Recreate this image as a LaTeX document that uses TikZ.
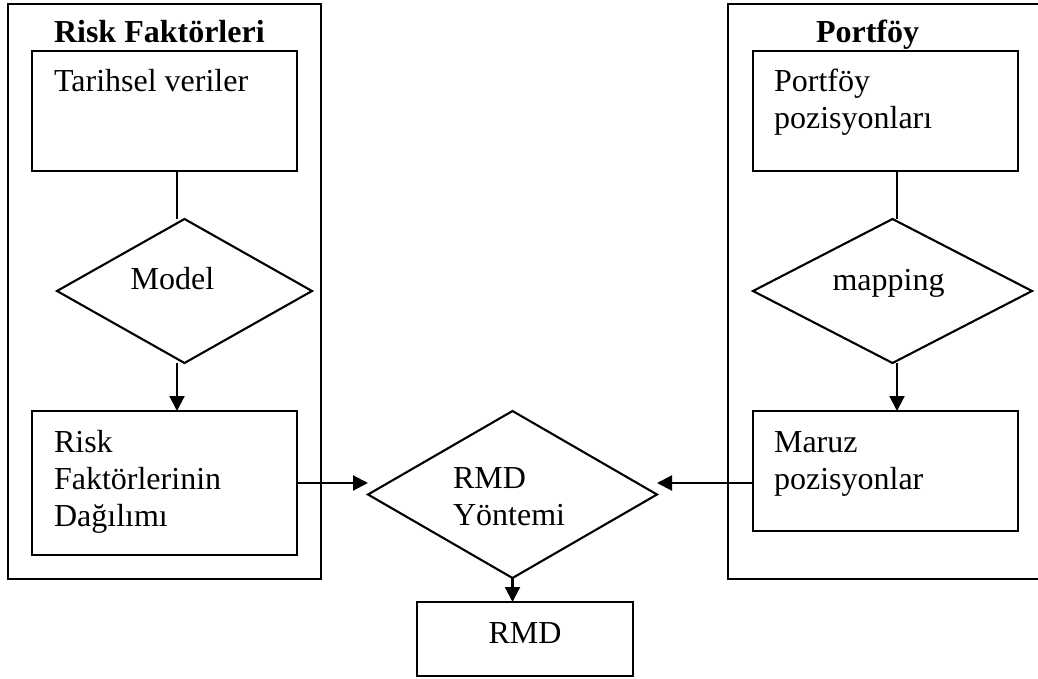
\documentclass[tikz,border=0pt]{standalone}
\usepackage{fontspec}
\setmainfont{Liberation Serif}
\usetikzlibrary{arrows.meta, shapes.geometric}

\begin{document}
\begin{tikzpicture}[x=1pt, y=-1pt, >={Triangle[length=15pt,width=15pt]}, line width=2.1pt,
    box/.style={draw, rectangle, inner sep=0pt, outer sep=0pt},
    dia/.style={draw, diamond, inner sep=0pt, outer sep=0pt},
    txt/.style={inner sep=0pt, font=\fontsize{32}{37}\selectfont, align=left},
    ttl/.style={inner sep=0pt, font=\fontsize{32}{37}\selectfont\bfseries}]
        \useasboundingbox (0,0) rectangle (1038,679);

        % Outer frames
        \node[box, minimum width=313pt, minimum height=575pt] (riskframe) at (164.5,291.5) {};
        \node[box, minimum width=320pt, minimum height=575pt] (portframe) at (888,291.5) {};
        \node[ttl, anchor=base west] (risktitle) at (53,43) {Risk Faktörleri};
        \node[ttl, anchor=base west] (porttitle) at (815,43) {Portföy};

        % Left column
        \node[box, minimum width=265pt, minimum height=120pt] (tarih) at (164.5,111) {};
        \node[txt, anchor=base west] (tarihtxt) at (53,92) {Tarihsel veriler};
        \node[dia, minimum width=255pt, minimum height=144pt] (model) at (184.5,291) {};
        \node[txt, anchor=base] (modeltxt) at (172.5,289) {Model};
        \node[box, minimum width=265pt, minimum height=144pt] (dagilim) at (164.5,483) {};
        \node[txt, anchor=north west] (dagilimtxt) at (53,429) {Risk\\Faktörlerinin\\Dağılımı};

        % Right column
        \node[box, minimum width=265pt, minimum height=120pt] (pozisyon) at (885.5,111) {};
        \node[txt, anchor=north west] (pozisyontxt) at (773,68) {Portföy\\pozisyonları};
        \node[dia, minimum width=279pt, minimum height=144pt] (mapping) at (892.5,291) {};
        \node[txt, anchor=base] (mappingtxt) at (888.5,290) {mapping};
        \node[box, minimum width=265pt, minimum height=120pt] (maruz) at (885.5,471) {};
        \node[txt, anchor=north west] (maruztxt) at (773,430) {Maruz\\pozisyonlar};

        % Middle: method and result
        \node[dia, minimum width=289pt, minimum height=167pt] (yontem) at (512.5,494.5) {};
        \node[txt, anchor=north west] (yontemtxt) at (452,466) {RMD\\Yöntemi};
        \node[box, minimum width=216pt, minimum height=74pt] (rmd) at (525,639) {};
        \node[txt, anchor=base] (rmdtxt) at (525,643) {RMD};

        % Connectors
        \coordinate (leftx) at (177,0);
        \coordinate (rightx) at (897,0);
        \draw (tarih.south -| leftx) -- (model.north -| leftx);
        \draw[->] (model.south -| leftx) -- (dagilim.north -| leftx);
        \draw (pozisyon.south -| rightx) -- (mapping.north -| rightx);
        \draw[->] (mapping.south -| rightx) -- (maruz.north -| rightx);
        \draw[->] (dagilim.east) -- (yontem.west |- dagilim.east);
        \draw[->] (maruz.west |- dagilim.east) -- (yontem.east |- dagilim.east);
        \draw[->] (yontem.south) -- (yontem.south |- rmd.north);
    \end{tikzpicture}
\end{document}
